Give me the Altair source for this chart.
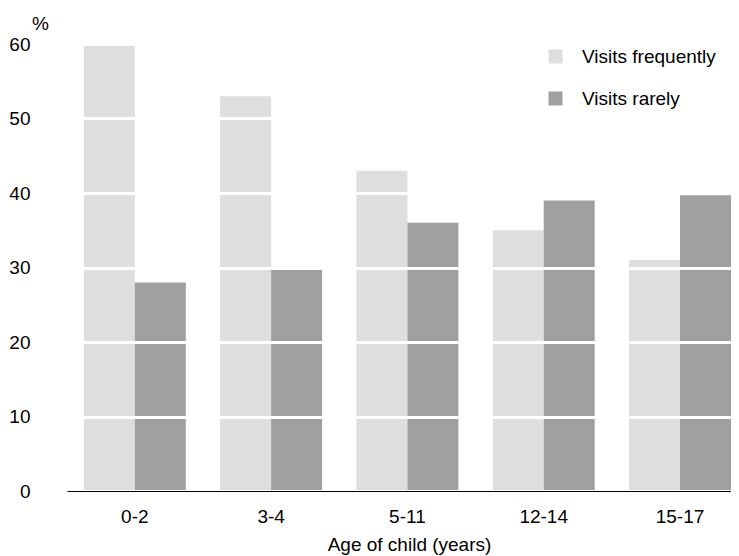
import altair as alt
import pandas as pd

ages = ["0-2", "3-4", "5-11", "12-14", "15-17"]
series = ["Visits frequently", "Visits rarely"]
frequent = [60, 53, 43, 35, 31]
rarely = [28, 30, 36, 39, 39.7]
colors = ["#dedede", "#a0a0a0"]
y_ticks = [0, 10, 20, 30, 40, 50, 60]

rows = []
for a, f, r in zip(ages, frequent, rarely):
    rows.append({"age": a, "series": series[0], "value": f})
    rows.append({"age": a, "series": series[1], "value": r})
df = pd.DataFrame(rows)

FS = 19

chart = alt.Chart(df).mark_bar().encode(
    x=alt.X(
        "age:N", sort=ages,
        scale=alt.Scale(paddingInner=0.2517, paddingOuter=0.0617, align=1),
        axis=alt.Axis(title="Age of child (years)", labelAngle=0, ticks=False,
                      domainColor="#000", domainWidth=1, grid=False,
                      labelPadding=16, titlePadding=9, labelFontSize=FS,
                      titleFontSize=FS, titleFontWeight="normal",
                      labelColor="#000", titleColor="#000", titleX=342, zindex=1),
    ),
    xOffset=alt.XOffset("series:N", sort=series,
                        scale=alt.Scale(paddingInner=0, paddingOuter=0)),
    y=alt.Y(
        "value:Q", scale=alt.Scale(domain=[0, 60], nice=False),
        axis=alt.Axis(values=y_ticks, grid=True, gridColor="white", gridWidth=3,
                      ticks=False, domain=False,
                      labelPadding=37, labelFontSize=FS,
                      labelColor="#000", title="%", titleAngle=0, titleX=-27,
                      titleY=-21, titleFontSize=FS, titleFontWeight="normal",
                      titleColor="#000", titleBaseline="middle", titleAlign="center",
                      zindex=1),
    ),
    color=alt.Color(
        "series:N", sort=series,
        scale=alt.Scale(domain=series, range=colors),
        legend=alt.Legend(title=None, orient="none", legendX=479, legendY=3,
                          symbolType="square", symbolSize=196, labelFontSize=FS,
                          rowPadding=22, symbolStrokeWidth=0, labelOffset=17,
                          labelColor="#000"),
    ),
).properties(
    width=664, height=447,
    padding={"left": 59, "top": 36, "right": 0, "bottom": 65},
    autosize="none",
).configure(
    font="Liberation Sans"
).configure_view(
    strokeWidth=0, stroke="transparent"
)

chart.save("out.html", embed_options={"renderer": "svg", "actions": False})
